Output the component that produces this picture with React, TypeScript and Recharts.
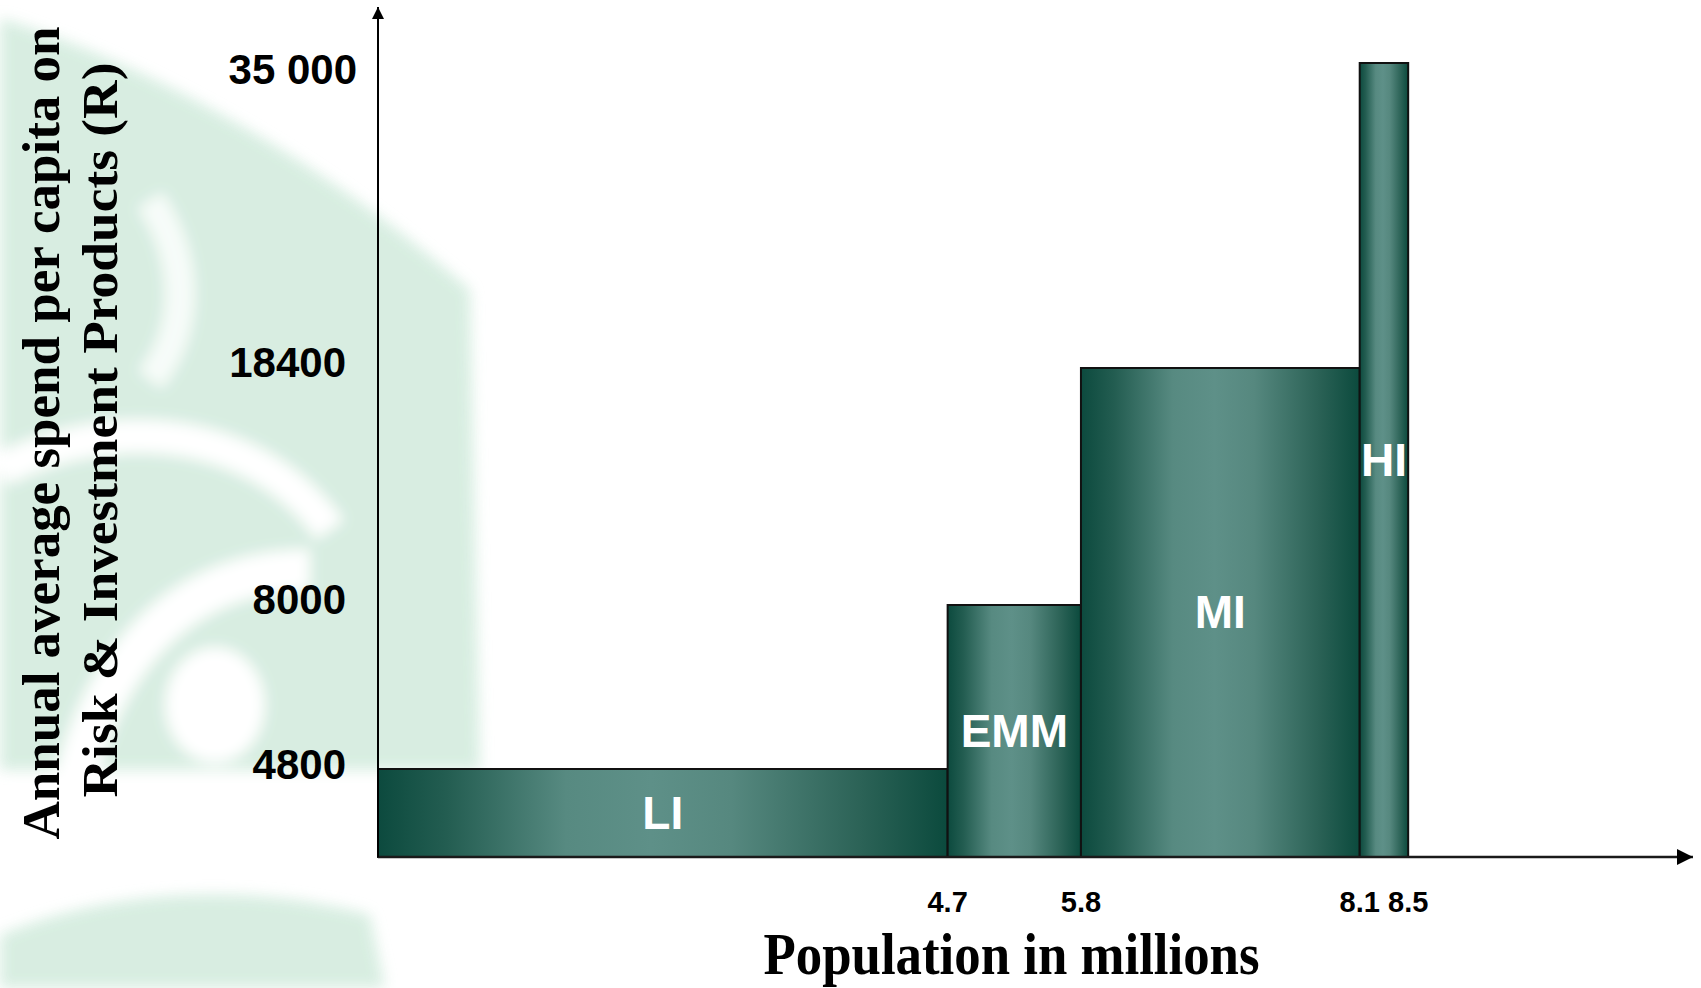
import React from 'react';
import { ComposedChart, XAxis, YAxis, ReferenceArea, Label } from 'recharts';

// ---------- data ----------
const groups = ['LI', 'EMM', 'MI', 'HI'];
const popFrom = [0, 4.7, 5.8, 8.1];
const popTo = [4.7, 5.8, 8.1, 8.5];
const spend = [4800, 8000, 18400, 35000];
const xTicks = [4.7, 5.8, 8.1, 8.5];
const yTicks = [4800, 8000, 18400, 35000];
const yTickLabels = ['4800', '8000', '18400', '35 000'];

// ---------- axis definitions ----------
const X_MAX = 10.85;
const Y_MAX = 38000;
// The original y axis is schematic (not linear): breakpoints of a piecewise scale
const Y_BREAKS = [0, 4800, 8000, 18400, 35000, Y_MAX];
const Y_SHARE = [0, 0.1035, 0.2965, 0.5753, 0.9341, 1];

function makeYScale(): any {
  let dom: number[] = [0, Y_MAX];
  let rng: number[] = [0, 1];
  const share = (v: number) => {
    const n = Y_BREAKS.length;
    if (v <= Y_BREAKS[0]) return Y_SHARE[0];
    for (let i = 0; i < n - 1; i++) {
      if (v <= Y_BREAKS[i + 1]) {
        const t = (v - Y_BREAKS[i]) / (Y_BREAKS[i + 1] - Y_BREAKS[i]);
        return Y_SHARE[i] + t * (Y_SHARE[i + 1] - Y_SHARE[i]);
      }
    }
    return 1 + ((v - Y_BREAKS[n - 1]) / (Y_BREAKS[n - 1] - Y_BREAKS[n - 2])) * (Y_SHARE[n - 1] - Y_SHARE[n - 2]);
  };
  const scale: any = (v: any) => rng[0] + share(Number(v)) * (rng[rng.length - 1] - rng[0]);
  scale.domain = (d?: number[]) => {
    if (d === undefined) return dom.slice();
    dom = d.slice();
    return scale;
  };
  scale.range = (r?: number[]) => {
    if (r === undefined) return rng.slice();
    rng = r.slice();
    return scale;
  };
  scale.copy = () => {
    const c = makeYScale();
    c.domain(dom);
    c.range(rng);
    return c;
  };
  scale.ticks = () => yTicks.slice();
  scale.tickFormat = () => (v: number) => String(v);
  scale.nice = () => scale;
  scale.clamp = () => scale;
  scale.invert = (px: number) => {
    const f = (px - rng[0]) / (rng[rng.length - 1] - rng[0]);
    for (let i = 0; i < Y_SHARE.length - 1; i++) {
      if (f <= Y_SHARE[i + 1]) {
        const t = (f - Y_SHARE[i]) / (Y_SHARE[i + 1] - Y_SHARE[i]);
        return Y_BREAKS[i] + t * (Y_BREAKS[i + 1] - Y_BREAKS[i]);
      }
    }
    return Y_MAX;
  };
  return scale;
}

const yScale = makeYScale();

const rows = groups.map((g, i) => ({ group: g, from: popFrom[i], to: popTo[i], spend: spend[i] }));

const SANS = '"Liberation Sans", Arial, sans-serif';
const SERIF = '"Liberation Serif", "Times New Roman", serif';
const TOP_TICK = yTicks[yTicks.length - 1];

const YTick = (props: any) => {
  const { x, y, payload } = props;
  const idx = yTicks.indexOf(payload.value);
  const isTop = payload.value === TOP_TICK;
  return (
    <text
      x={x}
      y={y}
      dx={isTop ? 11 : 0}
      dy={isTop ? 6 : -5}
      textAnchor="end"
      dominantBaseline="central"
      fontFamily={SANS}
      fontWeight={700}
      fontSize={42}
      fill="#000"
    >
      {idx >= 0 ? yTickLabels[idx] : payload.value}
    </text>
  );
};

const XTick = (props: any) => {
  const { x, y, payload } = props;
  return (
    <text x={x} y={y} dy={-3} textAnchor="middle" dominantBaseline="central" fontFamily={SANS} fontWeight={700} fontSize={29} fill="#000">
      {payload.value}
    </text>
  );
};

const XTitle = (props: any) => {
  const vb = props.viewBox || { x: 378, y: 857, width: 1315, height: 131 };
  return (
    <text x={vb.x + vb.width / 2 - 24} y={vb.y + 117} textAnchor="middle" fontFamily={SERIF} fontWeight={700} fontSize={60} fill="#000" textLength={496} lengthAdjust="spacingAndGlyphs">
      Population in millions
    </text>
  );
};

const YTitle = (props: any) => {
  const vb = props.viewBox || { x: 0, y: 7, width: 378, height: 850 };
  const cy = vb.y + vb.height / 2;
  return (
    <g>
      <text transform={`translate(59, ${cy + 1}) rotate(-90)`} textAnchor="middle" fontFamily={SERIF} fontWeight={700} fontSize={53} fill="#000" textLength={813} lengthAdjust="spacingAndGlyphs">
        Annual average spend per capita on
      </text>
      <text transform={`translate(117, ${cy - 2}) rotate(-90)`} textAnchor="middle" fontFamily={SERIF} fontWeight={700} fontSize={50} fill="#000" textLength={735} lengthAdjust="spacingAndGlyphs">
        Risk &amp; Investment Products (R)
      </text>
    </g>
  );
};

const barLabel = (text: string) => (props: any) => {
  const vb = props.viewBox || { x: 0, y: 0, width: 0, height: 0 };
  return (
    <text x={vb.x + vb.width / 2} y={vb.y + vb.height / 2} textAnchor="middle" dominantBaseline="central" fontFamily={SANS} fontWeight={700} fontSize={46} fill="#fff">
      {text}
    </text>
  );
};

const Watermark = () => (
  <svg width={1701} height={988} style={{ position: 'absolute', left: 0, top: 0 }}>
    <defs>
      <filter id="soft" x="-20%" y="-20%" width="140%" height="140%">
        <feGaussianBlur stdDeviation="7" />
      </filter>
    </defs>
    <g filter="url(#soft)" opacity={0.95}>
      <path d="M0,18 C120,55 300,140 470,290 L480,770 L0,770 Z" fill="#d6ede0" />
      <path d="M150,200 C190,260 190,330 150,380" stroke="#fff" strokeWidth={30} fill="none" opacity={0.8} />
      <path d="M0,470 C120,410 260,430 330,530" stroke="#fff" strokeWidth={34} fill="none" />
      <path d="M70,800 C100,660 180,570 310,570" stroke="#fff" strokeWidth={42} fill="none" />
      <ellipse cx={215} cy={705} rx={50} ry={58} fill="#fff" />
      <path d="M0,988 L0,935 C120,885 260,885 370,915 L385,988 Z" fill="#d6ede0" />
    </g>
  </svg>
);

export default function App() {
  return (
    <div style={{ position: 'absolute', left: 0, top: 0, width: 1701, height: 988, background: '#fff', overflow: 'hidden' }}>
      <Watermark />
      <div style={{ position: 'absolute', left: 0, top: 0 }}>
        <ComposedChart width={1701} height={988} data={rows} margin={{ top: 7, right: 8, bottom: 0, left: 0 }}>
          <defs>
            <linearGradient id="barGrad" x1="0" y1="0" x2="1" y2="0">
              <stop offset="0%" stopColor="#0c4a3e" />
              <stop offset="12%" stopColor="#235d51" />
              <stop offset="33%" stopColor="#578a81" />
              <stop offset="48%" stopColor="#5e9088" />
              <stop offset="62%" stopColor="#56887f" />
              <stop offset="85%" stopColor="#2b6256" />
              <stop offset="100%" stopColor="#0b4a3d" />
            </linearGradient>
            <marker id="arrowX" viewBox="0 0 10 10" refX="10" refY="5" markerWidth={16} markerHeight={16} markerUnits="userSpaceOnUse" orient="auto-start-reverse">
              <path d="M0,0 L10,5 L0,10 z" fill="#000" />
            </marker>
            <marker id="arrowY" viewBox="0 0 10 10" refX="10" refY="5" markerWidth={14} markerHeight={12} markerUnits="userSpaceOnUse" orient="auto-start-reverse">
              <path d="M0,0 L10,5 L0,10 z" fill="#000" />
            </marker>
          </defs>
          <XAxis
            type="number"
            dataKey="to"
            domain={[0, X_MAX]}
            allowDataOverflow
            ticks={xTicks}
            interval={0}
            tickLine={false}
            tickMargin={42}
            axisLine={{ stroke: '#1a1a1a', strokeWidth: 2.5, markerEnd: 'url(#arrowX)' }}
            height={131}
            tick={<XTick />}
          >
            <Label content={XTitle} />
          </XAxis>
          <YAxis
            type="number"
            domain={[0, Y_MAX]}
            allowDataOverflow
            scale={yScale}
            ticks={yTicks}
            interval={0}
            tickLine={false}
            tickMargin={26}
            axisLine={{ stroke: '#000', strokeWidth: 2, markerStart: 'url(#arrowY)' }}
            width={378}
            tick={<YTick />}
          >
            <Label content={YTitle} />
          </YAxis>
          {rows.map((r) => (
            <ReferenceArea
              key={r.group}
              x1={r.from}
              x2={r.to}
              y1={0}
              y2={r.spend}
              fill="url(#barGrad)"
              fillOpacity={1}
              stroke="#111"
              strokeWidth={2}
              ifOverflow="visible"
              label={barLabel(r.group)}
            />
          ))}
        </ComposedChart>
      </div>
    </div>
  );
}
